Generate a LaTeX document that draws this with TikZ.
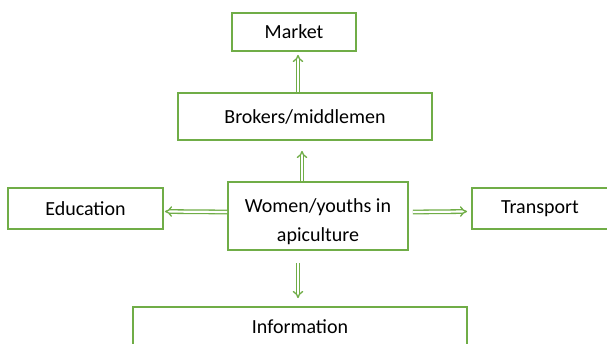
\documentclass[tikz,border=0pt]{standalone}
\usepackage{fontspec}
\setmainfont{Carlito}
\usetikzlibrary{arrows.meta}

\definecolor{boxgreen}{RGB}{112,173,71}

\begin{document}
\begin{tikzpicture}[x=1pt, y=-1pt,
  box/.style={draw=boxgreen, line width=1.7pt, fill=white, inner sep=0pt,
    align=center, font=\fontsize{20}{29}\selectfont, text=black},
  flow/.style={draw=boxgreen, line width=1.3pt, double=white, double distance=2.2pt, -{Implies}}]

\useasboundingbox (0,0) rectangle (607,344);
\clip (0,0) rectangle (607,344);

\begin{scope}

\node[box, minimum width=124pt, minimum height=38pt] (market) at (294,32) {Market};
\node[box, minimum width=254pt, minimum height=47pt] (brokers) at (305,116.5) {Brokers/middlemen};
\node[box, minimum width=180pt, minimum height=68pt,
  label={[box, draw=none, fill=none, yshift=-6pt]center:Women/youths in\\apiculture}] (women) at (318,216) {};
\node[box, minimum width=155pt, minimum height=41pt] (edu) at (85.5,208.5) {Education};
\node[box, minimum width=136pt, minimum height=41pt] (trans) at (540,208.5) {Transport};
\node[box, minimum width=334pt, minimum height=60pt, text height=14pt, text depth=22pt] (info) at (300,337) {Information};

\draw[flow] ([xshift=-7pt]brokers.north) -- ([xshift=4pt,yshift=-3pt]market.south);
\draw[flow] ([xshift=-16pt]women.north) -- ([xshift=-3pt,yshift=-10pt]brokers.south);
\draw[flow] ([yshift=4pt]women.west) -- ([xshift=1pt,yshift=-3pt]edu.east);
\draw[flow] ([xshift=4pt,yshift=4pt]women.east) -- ([xshift=-4pt,yshift=-3pt]trans.west);
\draw[flow] ([xshift=-20pt,yshift=-12pt]women.south) -- ([xshift=-2pt,yshift=8pt]info.north);
\end{scope}

\end{tikzpicture}
\end{document}
